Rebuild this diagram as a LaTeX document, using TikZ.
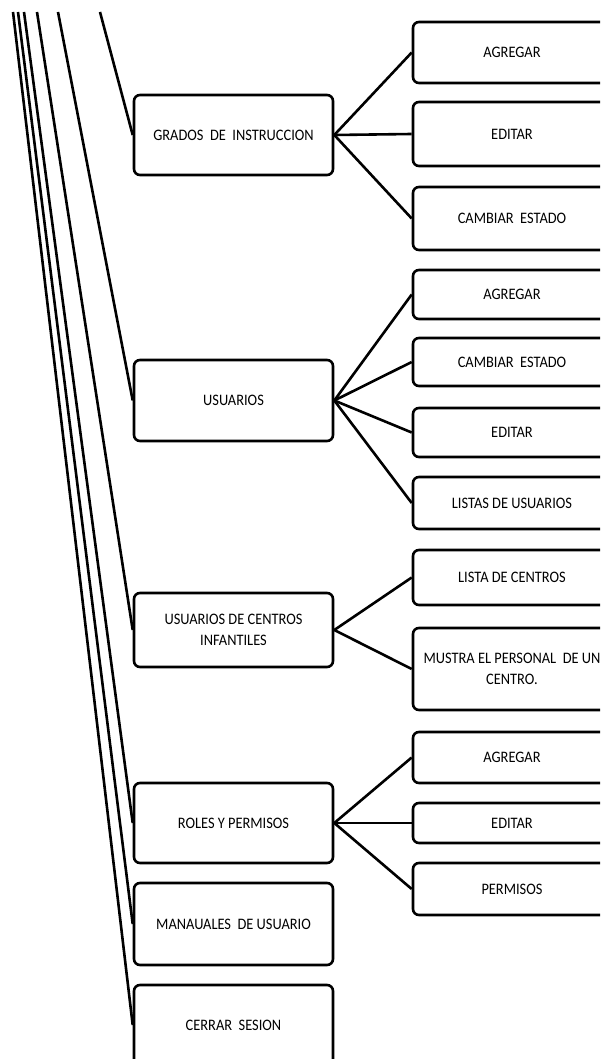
\documentclass[tikz,border=0pt]{standalone}
\usepackage{fontspec}
\setmainfont[FakeStretch=0.9]{Carlito}
\begin{document}
\begin{tikzpicture}[x=1pt,y=-1pt,
  box/.style={draw=black, line width=2.6pt, rounded corners=6pt, fill=white,
    minimum width=199pt, inner sep=0pt, align=center,
    font=\fontsize{16}{21}\selectfont},
  sub/.style={box, minimum width=198pt},
  link/.style={line width=2.6pt}]
\clip (0,0) rectangle (600,1059);
\fill[white] (0,0) rectangle (600,1059);

% main menu entries
\node[box, minimum height=80pt] (grados)   at (233.5,135)   {GRADOS~~DE~~INSTRUCCION};
\node[box, minimum height=81pt] (usuarios) at (233.5,400.5) {USUARIOS};
\node[box, minimum height=74pt] (centros)  at (233.5,630)   {USUARIOS DE CENTROS\\INFANTILES};
\node[box, minimum height=80pt] (roles)    at (233.5,823)   {ROLES Y PERMISOS};
\node[box, minimum height=82pt] (manuales) at (233.5,924)   {MANAUALES~~DE USUARIO};
\node[box, minimum height=80pt] (cerrar)   at (233.5,1025)  {CERRAR~~SESION};

% sub-options
\node[sub, minimum height=61pt] (g1) at (512,52.5)  {AGREGAR};
\node[sub, minimum height=64pt] (g2) at (512,134)   {EDITAR};
\node[sub, minimum height=63pt] (g3) at (512,218.5) {CAMBIAR~~ESTADO};

\node[sub, minimum height=49pt] (u1) at (512,294.5) {AGREGAR};
\node[sub, minimum height=48pt] (u2) at (512,362)   {CAMBIAR~~ESTADO};
\node[sub, minimum height=49pt] (u3) at (512,432.5) {EDITAR};
\node[sub, minimum height=52pt] (u4) at (512,503)   {LISTAS DE USUARIOS};

\node[sub, minimum height=55pt] (c1) at (512,577.5) {LISTA DE CENTROS};
\node[sub, minimum height=82pt] (c2) at (512,669)   {MUSTRA EL PERSONAL~~DE UN\\CENTRO.};

\node[sub, minimum height=51pt] (r1) at (512,757.5) {AGREGAR};
\node[sub, minimum height=40pt] (r2) at (512,823)   {EDITAR};
\node[sub, minimum height=52pt] (r3) at (512,889)   {PERMISOS};

% free ends of the trunk lines
\coordinate (t1) at (13,12);
\coordinate (t2) at (18,12);
\coordinate (t3) at (24,12);
\coordinate (t4) at (37,12);
\coordinate (t5) at (58,12);
\coordinate (t6) at (100,12);

\draw[link] (t1) -- (cerrar.west);
\draw[link] (t2) -- (manuales.west);
\draw[link] (t3) -- (roles.west);
\draw[link] (t4) -- (centros.west);
\draw[link] (t5) -- (usuarios.west);
\draw[link] (t6) -- (grados.west);

% branches to the sub-options
\foreach \s in {g1,g2,g3} \draw[link] (grados.east) -- (\s.west);
\foreach \s in {u1,u2,u3,u4} \draw[link] (usuarios.east) -- (\s.west);
\foreach \s in {c1,c2} \draw[link] (centros.east) -- (\s.west);
\foreach \s in {r1,r2,r3} \draw[link] (roles.east) -- (\s.west);
\end{tikzpicture}
\end{document}
